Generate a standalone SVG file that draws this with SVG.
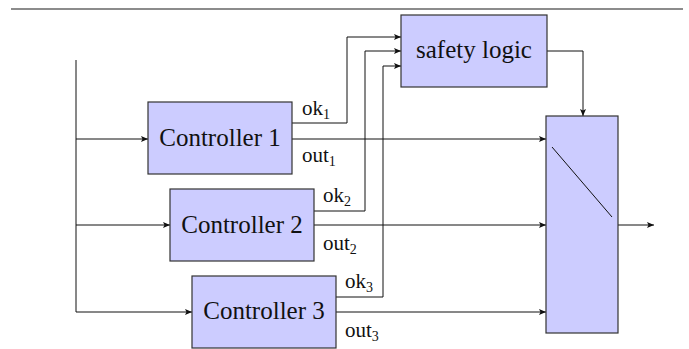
<svg xmlns="http://www.w3.org/2000/svg" width="689" height="349" viewBox="0 0 689 349">
  <style>
    .box { fill: #ccccff; stroke: #333333; stroke-width: 1.2; }
    .wire { fill: none; stroke: #111111; stroke-width: 1; }
    text { font-family: "Liberation Serif", "DejaVu Serif", serif; fill: #111111; }
    .node-text { font-size: 25px; text-anchor: middle; }
    .label { font-size: 21px; }
    .sub { font-size: 14px; }
  </style>
  <defs>
    <marker id="arrow" markerUnits="userSpaceOnUse" markerWidth="8" markerHeight="6" refX="7" refY="3" orient="auto">
      <path d="M0,0 L7,3 L0,6 L1.5,3 Z" fill="#111111"/>
    </marker>
  </defs>

  <!-- page header rule -->
  <line x1="11" y1="9" x2="683" y2="9" stroke="#666666" stroke-width="1.5"/>

  <!-- connectors -->
  <g id="connectors" class="wire">
    <path d="M76,60 V312"/>
    <path d="M76,139 H148" marker-end="url(#arrow)"/>
    <path d="M76,225 H170" marker-end="url(#arrow)"/>
    <path d="M76,312 H192" marker-end="url(#arrow)"/>
    <path d="M292,123 H347 V37 H401" marker-end="url(#arrow)"/>
    <path d="M314,211 H365 V51 H401" marker-end="url(#arrow)"/>
    <path d="M336,297 H383 V66 H401" marker-end="url(#arrow)"/>
    <path d="M292,139 H546" marker-end="url(#arrow)"/>
    <path d="M314,225 H546" marker-end="url(#arrow)"/>
    <path d="M336,312 H546" marker-end="url(#arrow)"/>
    <path d="M547,51 H583 V116" marker-end="url(#arrow)"/>
    <path d="M618,225 H654" marker-end="url(#arrow)"/>
  </g>

  <!-- safety logic -->
  <g id="safety-logic">
    <rect class="box" x="401" y="15" width="146" height="72"/>
    <text class="node-text" x="474" y="58" font-family="Liberation Serif, serif">safety logic</text>
  </g>

  <!-- controllers -->
  <g id="controller-1">
    <rect class="box" x="148" y="102" width="144" height="72"/>
    <text class="node-text" x="220" y="146">Controller 1</text>
  </g>
  <g id="controller-2">
    <rect class="box" x="170" y="189" width="144" height="72"/>
    <text class="node-text" x="242" y="233">Controller 2</text>
  </g>
  <g id="controller-3">
    <rect class="box" x="192" y="276" width="144" height="72"/>
    <text class="node-text" x="264" y="319">Controller 3</text>
  </g>

  <!-- output switch -->
  <g id="switch">
    <rect class="box" x="546" y="116" width="72" height="217"/>
    <line x1="552" y1="147" x2="612" y2="217" stroke="#111111" stroke-width="1"/>
  </g>

  <!-- signal labels -->
  <g id="labels">
    <text class="label" x="302" y="115">ok<tspan class="sub" dy="4">1</tspan></text>
    <text class="label" x="302" y="162">out<tspan class="sub" dy="4">1</tspan></text>
    <text class="label" x="323" y="202">ok<tspan class="sub" dy="4">2</tspan></text>
    <text class="label" x="323" y="250">out<tspan class="sub" dy="4">2</tspan></text>
    <text class="label" x="345" y="288">ok<tspan class="sub" dy="4">3</tspan></text>
    <text class="label" x="345" y="337">out<tspan class="sub" dy="4">3</tspan></text>
  </g>
</svg>
